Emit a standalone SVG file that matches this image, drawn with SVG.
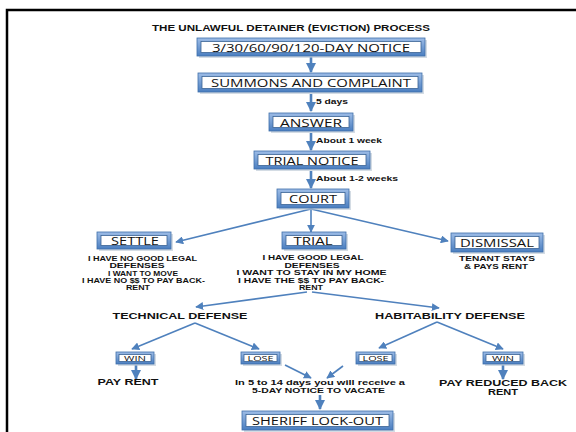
<svg xmlns="http://www.w3.org/2000/svg" width="576" height="432" viewBox="0 0 576 432">
<defs>
<linearGradient id="bg" x1="0" y1="0" x2="0" y2="1">
<stop offset="0" stop-color="#9DBCE6"/>
<stop offset="1" stop-color="#4A7EC0"/>
</linearGradient>
<marker id="ah" viewBox="0 0 10 10" refX="9" refY="5" markerWidth="4" markerHeight="4" orient="auto" markerUnits="strokeWidth">
<path d="M0,0 L10,5 L0,10 z" fill="#4F81BD"/>
</marker>
<marker id="ahs" viewBox="0 0 10 10" refX="9" refY="5" markerWidth="5" markerHeight="5" orient="auto" markerUnits="strokeWidth">
<path d="M0,0 L10,5 L0,10 z" fill="#4F81BD"/>
</marker>
</defs>
<style>
.o{fill:url(#bg);stroke:#3F6FAA;stroke-width:0.8}
.sh{fill:#b8c4d2;opacity:0.6}
.i{fill:#fff;stroke:#3A6395;stroke-width:0.8}
.bt{font-family:"Open Sans","Noto Sans",sans-serif;fill:#111;text-anchor:middle}
.lb{font-family:"Liberation Sans",Arial,sans-serif;font-weight:bold;fill:#111;text-anchor:middle}
.sm{font-family:"Liberation Sans",Arial,sans-serif;font-weight:bold;fill:#111}
.v{stroke:#4F81BD;stroke-width:2.6;fill:none;marker-end:url(#ah)}
.d{stroke:#4F81BD;stroke-width:1.6;fill:none;marker-end:url(#ahs)}
</style>
<rect width="576" height="432" fill="#fff"/>
<path d="M7,432 V10 H576" fill="none" stroke="#000" stroke-width="2.5"/>
<text class="lb" x="291" y="31" font-size="9.5" textLength="278" lengthAdjust="spacingAndGlyphs">THE UNLAWFUL DETAINER (EVICTION) PROCESS</text>

<g id="connectors">
<line class="v" x1="311" y1="57" x2="311" y2="72"/>
<line class="v" x1="311" y1="94" x2="311" y2="111"/>
<line class="v" x1="311" y1="133" x2="311" y2="150"/>
<line class="v" x1="311" y1="171" x2="311" y2="188"/>
<line class="d" x1="311" y1="209" x2="176" y2="242"/>
<line class="d" x1="311" y1="209" x2="311" y2="232"/>
<line class="d" x1="311" y1="209" x2="448" y2="241"/>
<line class="d" x1="307" y1="292" x2="196" y2="307"/>
<line class="d" x1="312" y1="292" x2="439" y2="308"/>
<line class="d" x1="195" y1="323" x2="132" y2="349"/>
<line class="d" x1="195" y1="323" x2="259" y2="349"/>
<line class="d" x1="437" y1="322" x2="379" y2="348"/>
<line class="d" x1="437" y1="322" x2="503" y2="349"/>
<line class="v" x1="136" y1="365" x2="136" y2="379"/>
<line class="v" x1="503" y1="365" x2="503" y2="379"/>
<line class="d" x1="285" y1="365" x2="311" y2="378"/>
<line class="d" x1="343" y1="366" x2="327" y2="378"/>
<line class="v" x1="320" y1="395" x2="320" y2="409"/>
</g>
<g class="sm" font-size="7">
<text x="316" y="104" textLength="32" lengthAdjust="spacingAndGlyphs">5 days</text>
<text x="316" y="142.5" textLength="66" lengthAdjust="spacingAndGlyphs">About 1 week</text>
<text x="316" y="181" textLength="82" lengthAdjust="spacingAndGlyphs">About 1-2 weeks</text>
</g>

<g id="n1"><rect class="sh" x="199" y="40" width="228" height="18"/><rect class="o" x="197" y="38" width="228" height="18"/><rect class="i" x="201" y="41.5" width="220" height="11"/><text class="bt" x="311" y="51.5" font-size="11.5" textLength="198" lengthAdjust="spacingAndGlyphs">3/30/60/90/120-DAY NOTICE</text></g>
<g id="n2"><rect class="sh" x="200" y="75" width="224" height="19"/><rect class="o" x="198" y="73" width="224" height="19"/><rect class="i" x="202" y="76.5" width="216" height="12"/><text class="bt" x="311" y="87" font-size="11.5" textLength="200" lengthAdjust="spacingAndGlyphs">SUMMONS AND COMPLAINT</text></g>
<g id="n3"><rect class="sh" x="271" y="115" width="84" height="18"/><rect class="o" x="269" y="113" width="84" height="18"/><rect class="i" x="273" y="116.5" width="76" height="11"/><text class="bt" x="311" y="126.5" font-size="11.5" textLength="62" lengthAdjust="spacingAndGlyphs">ANSWER</text></g>
<g id="n4"><rect class="sh" x="256" y="153" width="116" height="18"/><rect class="o" x="254" y="151" width="116" height="18"/><rect class="i" x="258" y="154.5" width="108" height="11"/><text class="bt" x="312" y="164.5" font-size="11.5" textLength="93" lengthAdjust="spacingAndGlyphs">TRIAL NOTICE</text></g>
<g id="n5"><rect class="sh" x="279" y="191" width="72" height="19"/><rect class="o" x="277" y="189" width="72" height="19"/><rect class="i" x="281" y="192.5" width="64" height="12"/><text class="bt" x="313" y="203" font-size="11.5" textLength="48" lengthAdjust="spacingAndGlyphs">COURT</text></g>

<g id="n6"><rect class="sh" x="99" y="234" width="74" height="17"/><rect class="o" x="97" y="232" width="74" height="17"/><rect class="i" x="101" y="235.5" width="66" height="10"/><text class="bt" x="135" y="245" font-size="11" textLength="48" lengthAdjust="spacingAndGlyphs">SETTLE</text>
<g class="lb" font-size="7"><text x="142.5" y="260.5" textLength="109" lengthAdjust="spacingAndGlyphs">I HAVE NO GOOD LEGAL</text><text x="137" y="268" textLength="55" lengthAdjust="spacingAndGlyphs">DEFENSES</text><text x="143" y="275.5" textLength="70" lengthAdjust="spacingAndGlyphs">I WANT TO MOVE</text><text x="143.5" y="283" textLength="123" lengthAdjust="spacingAndGlyphs">I HAVE NO $$ TO PAY BACK-</text><text x="138" y="290" textLength="24" lengthAdjust="spacingAndGlyphs">RENT</text></g></g>

<g id="n7"><rect class="sh" x="284" y="234" width="64" height="17"/><rect class="o" x="282" y="232" width="64" height="17"/><rect class="i" x="286" y="235.5" width="56" height="10"/><text class="bt" x="313" y="245" font-size="11" textLength="39" lengthAdjust="spacingAndGlyphs">TRIAL</text>
<g class="lb" font-size="7"><text x="313" y="260" textLength="101" lengthAdjust="spacingAndGlyphs">I HAVE GOOD LEGAL</text><text x="312" y="267.5" textLength="55" lengthAdjust="spacingAndGlyphs">DEFENSES</text><text x="311.5" y="275" textLength="150" lengthAdjust="spacingAndGlyphs">I WANT TO STAY IN MY HOME</text><text x="311" y="282.5" textLength="146" lengthAdjust="spacingAndGlyphs">I HAVE THE $$ TO PAY BACK-</text><text x="311" y="289.5" textLength="24" lengthAdjust="spacingAndGlyphs">RENT</text></g></g>

<g id="n8"><rect class="sh" x="453" y="235" width="92" height="19"/><rect class="o" x="451" y="233" width="92" height="19"/><rect class="i" x="455" y="236.5" width="84" height="12"/><text class="bt" x="497" y="247" font-size="11" textLength="74" lengthAdjust="spacingAndGlyphs">DISMISSAL</text>
<g class="lb" font-size="7"><text x="497" y="261" textLength="76" lengthAdjust="spacingAndGlyphs">TENANT STAYS</text><text x="496" y="268.5" textLength="64" lengthAdjust="spacingAndGlyphs">&amp; PAYS RENT</text></g></g>

<g id="n9"><text class="lb" x="180" y="319" font-size="8.5" textLength="135" lengthAdjust="spacingAndGlyphs">TECHNICAL DEFENSE</text></g>
<g id="n10"><text class="lb" x="450" y="318.5" font-size="8.5" textLength="150" lengthAdjust="spacingAndGlyphs">HABITABILITY DEFENSE</text></g>

<g id="n11"><rect class="sh" x="118" y="354" width="38" height="12"/><rect class="o" x="116" y="352" width="38" height="12"/><rect class="i" x="119" y="354.5" width="32" height="7"/><text class="bt" x="135" y="361" font-size="7.5" textLength="22" lengthAdjust="spacingAndGlyphs">WIN</text></g>
<g id="n12"><rect class="sh" x="243" y="354" width="39" height="12"/><rect class="o" x="241" y="352" width="39" height="12"/><rect class="i" x="244" y="354.5" width="33" height="7"/><text class="bt" x="260.5" y="361" font-size="7.5" textLength="26" lengthAdjust="spacingAndGlyphs">LOSE</text></g>
<g id="n13"><rect class="sh" x="358" y="354" width="39" height="12"/><rect class="o" x="356" y="352" width="39" height="12"/><rect class="i" x="359" y="354.5" width="33" height="7"/><text class="bt" x="375.5" y="361" font-size="7.5" textLength="26" lengthAdjust="spacingAndGlyphs">LOSE</text></g>
<g id="n14"><rect class="sh" x="485" y="354" width="40" height="12"/><rect class="o" x="483" y="352" width="40" height="12"/><rect class="i" x="486" y="354.5" width="34" height="7"/><text class="bt" x="503" y="361" font-size="7.5" textLength="22" lengthAdjust="spacingAndGlyphs">WIN</text></g>

<g id="n15"><text class="lb" x="128" y="385" font-size="8.5" textLength="61" lengthAdjust="spacingAndGlyphs">PAY RENT</text></g>
<g id="n16"><text class="lb" x="320" y="384.5" font-size="7" textLength="170" lengthAdjust="spacingAndGlyphs">In 5 to 14 days you will receive a</text><text class="lb" x="318.5" y="393" font-size="7" textLength="133" lengthAdjust="spacingAndGlyphs">5-DAY NOTICE TO VACATE</text></g>
<g id="n17"><text class="lb" x="503" y="386" font-size="8.5" textLength="128" lengthAdjust="spacingAndGlyphs">PAY REDUCED BACK</text><text class="lb" x="503" y="395" font-size="8.5" textLength="30" lengthAdjust="spacingAndGlyphs">RENT</text></g>

<g id="n18"><rect class="sh" x="244" y="413" width="151" height="19"/><rect class="o" x="242" y="411" width="151" height="19"/><rect class="i" x="246" y="414.5" width="143" height="12"/><text class="bt" x="317.5" y="425" font-size="11.5" textLength="131" lengthAdjust="spacingAndGlyphs">SHERIFF LOCK-OUT</text></g>
</svg>
